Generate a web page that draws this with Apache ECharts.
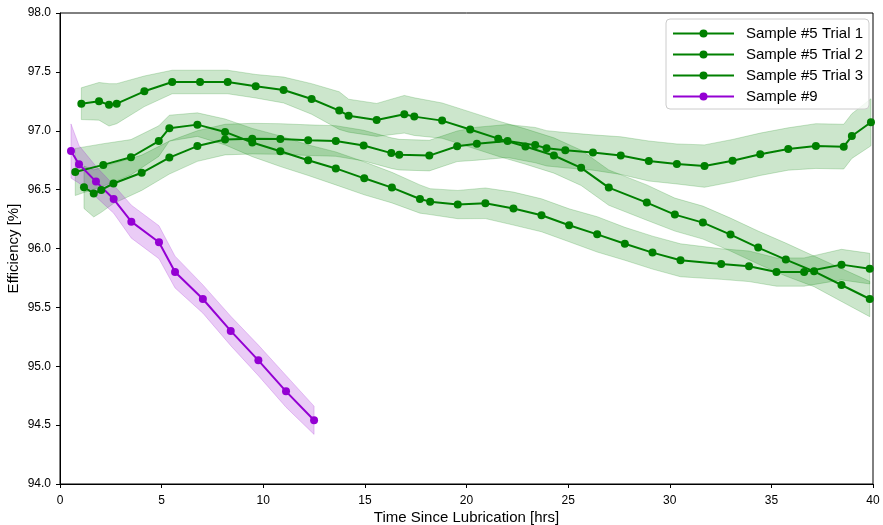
<!DOCTYPE html>
<html>
<head>
<meta charset="utf-8">
<script src="https://cdn.jsdelivr.net/npm/echarts@6/dist/echarts.min.js"></script>
<style>
  html, body { margin: 0; padding: 0; background: #fff; }
  #chart { width: 883px; height: 525px; }
</style>
</head>
<body>
<div id="chart"></div>
<script>
// Efficiency over time since lubrication, with ±1 std bands

// Sample #5, Trial 1
const trial1X = [1.05, 1.92, 2.41, 2.79, 4.15, 5.52, 6.89, 8.25, 9.63, 11.0,
  12.38, 13.74, 14.2, 15.58, 16.94, 17.43, 18.8, 20.18, 21.56, 22.9,
  24.3, 25.64, 27.0, 28.87, 30.25, 31.63, 32.99, 34.35, 35.71, 37.1,
  38.45, 39.84];
const trial1Y = [97.23, 97.25, 97.22, 97.23, 97.335, 97.414, 97.414, 97.414, 97.378, 97.346,
  97.27, 97.171, 97.128, 97.092, 97.14, 97.12, 97.086, 97.01, 96.933, 96.866,
  96.79, 96.685, 96.517, 96.39, 96.288, 96.22, 96.118, 96.008, 95.906, 95.806,
  95.69, 95.571];
const trial1Std = [0.135, 0.16, 0.18, 0.17, 0.13, 0.10, 0.10, 0.10, 0.10, 0.11,
  0.13, 0.16, 0.14, 0.14, 0.16, 0.16, 0.15, 0.15, 0.15, 0.15,
  0.15, 0.15, 0.15, 0.15, 0.14, 0.14, 0.14, 0.14, 0.14, 0.13,
  0.14, 0.15];

// Sample #5, Trial 2
const trial2X = [0.75, 2.13, 3.49, 4.86, 5.38, 6.76, 8.12, 9.46, 10.84, 12.21,
  13.57, 14.97, 16.33, 17.71, 18.21, 19.57, 20.93, 22.31, 23.69, 25.05,
  26.43, 27.79, 29.15, 30.53, 32.53, 33.9, 35.25, 36.61, 38.45, 39.84];
const trial2Y = [96.65, 96.71, 96.775, 96.912, 97.022, 97.052, 96.99, 96.90, 96.826, 96.75,
  96.68, 96.596, 96.517, 96.42, 96.398, 96.373, 96.384, 96.339, 96.282, 96.197,
  96.12, 96.04, 95.965, 95.90, 95.868, 95.849, 95.80, 95.80, 95.863, 95.829];
const trial2Std = [0.2, 0.18, 0.15, 0.13, 0.11, 0.10, 0.11, 0.12, 0.13, 0.13,
  0.14, 0.14, 0.13, 0.12, 0.11, 0.12, 0.13, 0.14, 0.14, 0.14,
  0.15, 0.14, 0.14, 0.14, 0.13, 0.13, 0.12, 0.12, 0.13, 0.13];

// Sample #5, Trial 3
const trial3X = [1.18, 1.66, 2.03, 2.63, 4.02, 5.38, 6.76, 8.12, 9.46, 10.84,
  12.21, 13.57, 14.94, 16.3, 16.69, 18.17, 19.54, 20.51, 22.02, 23.38,
  23.94, 24.86, 26.22, 27.59, 28.97, 30.35, 31.71, 33.09, 34.45, 35.83,
  37.19, 38.56, 38.96, 39.9];
const trial3Y = [96.52, 96.468, 96.497, 96.552, 96.643, 96.772, 96.87, 96.925, 96.933, 96.93,
  96.92, 96.913, 96.874, 96.81, 96.797, 96.789, 96.868, 96.89, 96.913, 96.878,
  96.851, 96.835, 96.815, 96.789, 96.743, 96.718, 96.70, 96.746, 96.80, 96.845,
  96.87, 96.865, 96.955, 97.072];
const trial3Std = [0.18, 0.2, 0.19, 0.17, 0.15, 0.14, 0.13, 0.13, 0.13, 0.13,
  0.13, 0.13, 0.13, 0.13, 0.13, 0.13, 0.13, 0.14, 0.14, 0.15,
  0.15, 0.15, 0.15, 0.16, 0.17, 0.17, 0.18, 0.18, 0.18, 0.18,
  0.19, 0.19, 0.19, 0.2];

// Sample #9
const sample9X = [0.54, 0.935, 1.77, 2.64, 3.51, 4.87, 5.66, 7.03, 8.40, 9.76, 11.12, 12.50];
const sample9Y = [96.828, 96.715, 96.568, 96.42, 96.228, 96.053, 95.80, 95.571, 95.30, 95.05, 94.787, 94.541];
const sample9Std = [0.23, 0.16, 0.13, 0.12, 0.14, 0.14, 0.135, 0.12, 0.125, 0.13, 0.135, 0.12];

const xTicks = { min: 0, max: 40, interval: 5 };
const yTicks = { min: 94, max: 98, interval: 0.5 };

const GREEN = '#008000';
const PURPLE = '#9400d3';
const FONT = "'Liberation Sans', Arial, sans-serif";

const groups = [
  { name: 'Sample #5 Trial 1', x: trial1X, y: trial1Y, s: trial1Std, color: GREEN, fill: 'rgba(0,128,0,0.2)' },
  { name: 'Sample #5 Trial 2', x: trial2X, y: trial2Y, s: trial2Std, color: GREEN, fill: 'rgba(0,128,0,0.2)' },
  { name: 'Sample #5 Trial 3', x: trial3X, y: trial3Y, s: trial3Std, color: GREEN, fill: 'rgba(0,128,0,0.2)' },
  { name: 'Sample #9', x: sample9X, y: sample9Y, s: sample9Std, color: PURPLE, fill: 'rgba(148,0,211,0.2)' }
];

const series = [];
// std bands: one polygon per group, upper edge forward then lower edge back
groups.forEach((g, i) => {
  const upper = g.x.map((x, k) => [x, g.y[k] + g.s[k]]);
  const lower = g.x.map((x, k) => [x, g.y[k] - g.s[k]]).reverse();
  series.push({
    type: 'custom', name: 'band-' + i, silent: true, z: 1,
    data: [[g.x[0], g.y[0]]],
    renderItem: (params, api) => ({
      type: 'polygon',
      shape: { points: upper.concat(lower).map(p => api.coord(p)) },
      style: { fill: g.fill, stroke: g.fill, lineWidth: 1 }
    })
  });
});
groups.forEach((g) => {
  series.push({
    type: 'line', name: g.name, z: 3,
    data: g.x.map((x, k) => [x, g.y[k]]),
    symbol: 'circle', symbolSize: 8, showSymbol: true,
    itemStyle: { color: g.color },
    lineStyle: { color: g.color, width: 2 }
  });
});

const chart = echarts.init(document.getElementById('chart'), null, { renderer: 'canvas' });
chart.setOption({
  animation: false,
  backgroundColor: '#fff',
  textStyle: { fontFamily: FONT },
  grid: {
    left: 60, right: 10, top: 13, bottom: 41,
    containLabel: false, outerBoundsMode: 'none',
    show: true, borderColor: '#000', borderWidth: 1, backgroundColor: 'transparent'
  },
  legend: {
    data: groups.map(g => g.name),
    orient: 'vertical',
    left: 666, top: 19,
    padding: [7, 6, 5, 6],
    itemWidth: 61, itemHeight: 10, itemGap: 6,
    backgroundColor: 'rgba(255,255,255,0.8)',
    borderColor: '#cccccc', borderWidth: 1, borderRadius: 4,
    textStyle: { fontFamily: FONT, fontSize: 15, color: '#000', padding: [0, 0, 0, 7] }
  },
  xAxis: {
    type: 'value', min: xTicks.min, max: xTicks.max, interval: xTicks.interval,
    name: 'Time Since Lubrication [hrs]', nameLocation: 'middle', nameGap: 26,
    nameMoveOverlap: false,
    nameTextStyle: { fontFamily: FONT, fontSize: 15, color: '#000' },
    axisLine: { show: true, lineStyle: { color: '#000', width: 1 } },
    axisTick: { show: true, inside: false, length: 4, lineStyle: { color: '#000' } },
    axisLabel: { fontFamily: FONT, fontSize: 12, color: '#000', margin: 11, formatter: v => String(v) },
    splitLine: { show: false }
  },
  yAxis: {
    type: 'value', min: yTicks.min, max: yTicks.max, interval: yTicks.interval,
    name: 'Efficiency [%]', nameLocation: 'middle', nameGap: 39, nameRotate: 90,
    nameMoveOverlap: false,
    nameTextStyle: { fontFamily: FONT, fontSize: 15, color: '#000' },
    axisLine: { show: true, lineStyle: { color: '#000', width: 1 } },
    axisTick: { show: true, inside: false, length: 4, lineStyle: { color: '#000' } },
    axisLabel: { fontFamily: FONT, fontSize: 12, color: '#000', margin: 9, formatter: v => v.toFixed(1) },
    splitLine: { show: false }
  },
  series: series
});
</script>
</body>
</html>
